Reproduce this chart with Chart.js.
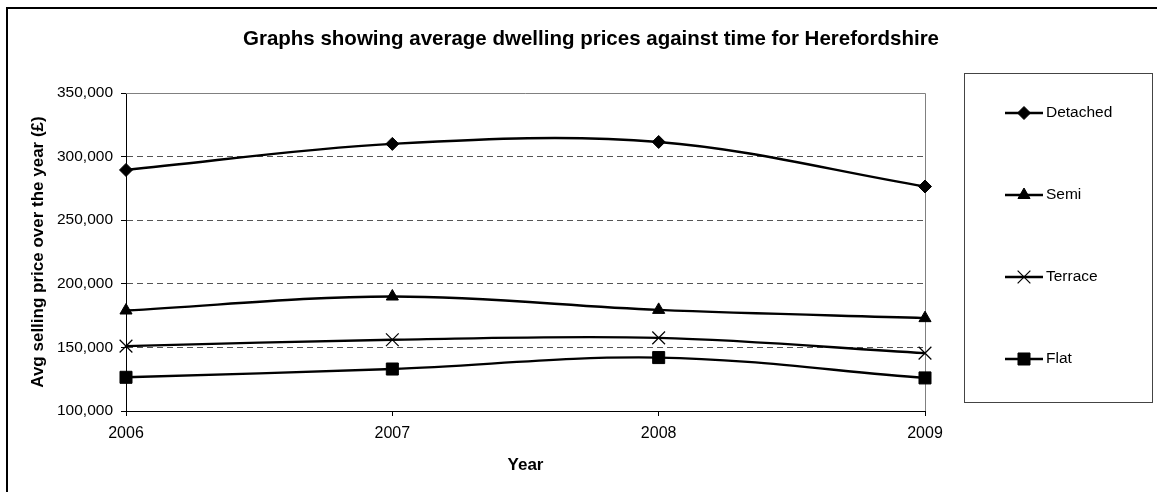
<!DOCTYPE html>
<html>
<head>
<meta charset="utf-8">
<script src="https://cdn.jsdelivr.net/npm/chart.js@4/dist/chart.umd.min.js"></script>
<style>
  html, body { margin: 0; padding: 0; background: #fff; }
  #wrap { width: 1157px; height: 492px; position: relative; }
</style>
</head>
<body>
<div id="wrap"><canvas id="line-chart"></canvas></div>
<script>
const years = ["2006", "2007", "2008", "2009"];
const detached = [289500, 310000, 311500, 276500];
const semi = [179000, 190000, 179500, 173000];
const terrace = [151000, 156000, 157500, 145500];
const flat = [126500, 133000, 142000, 126000];
const yTicks = [100000, 150000, 200000, 250000, 300000, 350000];

const chartTitle = "Graphs showing average dwelling prices against time for Herefordshire";
const fontFamily = "'Liberation Sans', Arial, sans-serif";

function series(label, data, style, radius, bw) {
    return {
        label: label,
        data: data,
        borderColor: "#000",
        backgroundColor: "#000",
        borderWidth: 2.4,
        tension: 0.35,
        pointStyle: style,
        pointRadius: radius,
        pointHoverRadius: radius,
        pointBackgroundColor: "#000",
        pointBorderColor: "#000",
        pointBorderWidth: bw,
        clip: false,
    };
}

const decor = {
    id: "decor",
    beforeDraw(chart) {
        const ctx = chart.ctx;
        ctx.save();
        ctx.fillStyle = "#fff";
        ctx.fillRect(0, 0, chart.width, chart.height);
        ctx.restore();
    },
    beforeDatasetsDraw(chart) {
        const ctx = chart.ctx;
        const a = chart.chartArea;
        ctx.save();
        ctx.strokeStyle = "#808080";
        ctx.lineWidth = 1;
        ctx.beginPath();
        ctx.moveTo(a.left, a.top + 0.5);
        ctx.lineTo(a.right + 0.5, a.top + 0.5);
        ctx.lineTo(a.right + 0.5, a.bottom);
        ctx.stroke();
        ctx.restore();
    },
    afterDraw(chart) {
        const ctx = chart.ctx;
        ctx.save();
        // outer frame
        ctx.strokeStyle = "#000";
        ctx.lineWidth = 2;
        ctx.strokeRect(7, 8, chart.width + 20, chart.height + 20);
        // title
        ctx.fillStyle = "#000";
        ctx.font = "bold 20.5px " + fontFamily;
        ctx.textAlign = "center";
        ctx.textBaseline = "alphabetic";
        ctx.fillText(chartTitle, 591, 45);
        // legend box
        ctx.strokeStyle = "#444";
        ctx.lineWidth = 1;
        ctx.strokeRect(964.5, 73.5, 188, 329);
        ctx.font = "15.5px " + fontFamily;
        ctx.textAlign = "left";
        ctx.textBaseline = "middle";
        chart.data.datasets.forEach((ds, i) => {
            const y = 113 + i * 82;
            ctx.strokeStyle = "#000";
            ctx.lineWidth = 2.4;
            ctx.beginPath();
            ctx.moveTo(1005, y);
            ctx.lineTo(1043, y);
            ctx.stroke();
            ctx.fillStyle = "#000";
            ctx.lineWidth = ds.pointBorderWidth;
            Chart.helpers.drawPoint(ctx, {
                pointStyle: ds.pointStyle,
                radius: ds.pointRadius,
                borderWidth: ds.pointBorderWidth,
                rotation: 0,
            }, 1024, y);
            ctx.fillStyle = "#000";
            ctx.fillText(ds.label, 1046, y);
        });
        ctx.restore();
    },
};

const lineCtx = document.getElementById("line-chart");
new Chart(lineCtx, {
    type: "line",
    data: {
        labels: years,
        datasets: [
            series("Detached", detached, "rectRot", 6.5, 1),
            series("Semi", semi, "triangle", 7, 1),
            series("Terrace", terrace, "crossRot", 9, 1.2),
            series("Flat", flat, "rect", 8.5, 1),
        ],
    },
    options: {
        responsive: true,
        maintainAspectRatio: false,
        animation: false,
        layout: { padding: { left: 24, right: 232, top: 93, bottom: 12 } },
        plugins: {
            legend: { display: false },
            title: { display: false },
            tooltip: { enabled: false },
        },
        scales: {
            x: {
                afterFit(scale) { scale.height = 69; },
                grid: {
                    drawOnChartArea: false,
                    color: "#000",
                    tickLength: 5,
                },
                border: { color: "#000", width: 1 },
                ticks: {
                    color: "#000",
                    padding: 8,
                    maxRotation: 0,
                    font: { family: fontFamily, size: 16 },
                },
                title: {
                    display: true,
                    text: "Year",
                    color: "#000",
                    font: { family: fontFamily, size: 17, weight: "bold" },
                },
            },
            y: {
                min: 100000,
                max: 350000,
                afterFit(scale) { scale.width = 102; },
                afterBuildTicks(scale) {
                    scale.ticks = yTicks.map(v => ({ value: v }));
                },
                grid: {
                    color: ctx => (ctx.tick && (ctx.tick.value === 100000 || ctx.tick.value === 350000)) ? "rgba(0,0,0,0)" : "#555",
                    tickColor: "#000",
                    tickLength: 5,
                    tickBorderDash: [],
                },
                border: { color: "#000", width: 1, dash: [6, 4] },
                ticks: {
                    color: "#000",
                    padding: 8,
                    font: { family: fontFamily, size: 15.5 },
                    callback: v => v.toLocaleString("en-US"),
                },
                title: {
                    display: true,
                    text: "Avg selling price over the year (£)",
                    color: "#000",
                    font: { family: fontFamily, size: 17, weight: "bold" },
                },
            },
        },
    },
    plugins: [decor],
});
</script>
</body>
</html>
